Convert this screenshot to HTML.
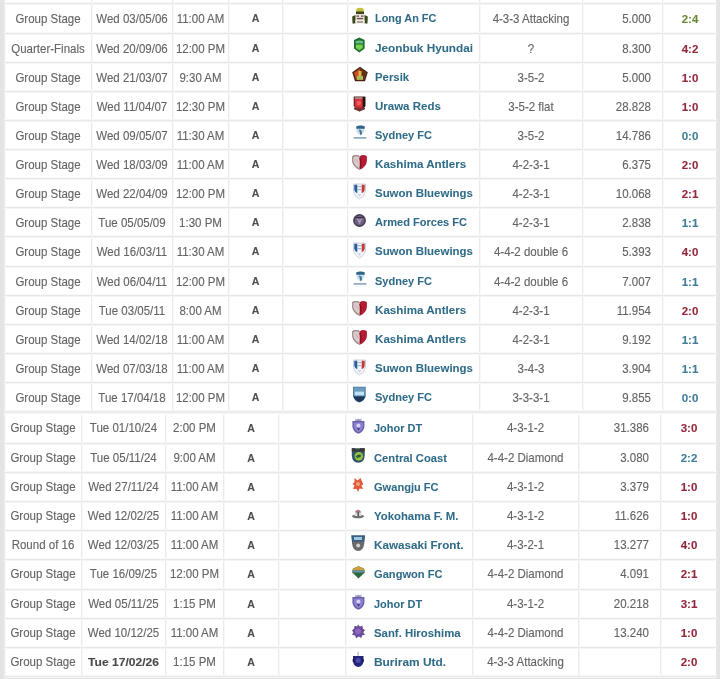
<!DOCTYPE html>
<html><head><meta charset="utf-8"><style>
*{margin:0;padding:0;box-sizing:border-box}
html,body{width:720px;height:679px;overflow:hidden;background:#fff}
body{position:relative;-webkit-text-stroke:0.12px;font-family:"Liberation Sans",sans-serif;font-size:11.5px;color:#646464}
.vl{position:absolute;width:1px;background:#ebebeb;box-shadow:1px 0 0 #f8f8f8}
.hl{position:absolute;height:1px;background:#e9e9e9;box-shadow:0 1px 0 #f5f5f5,0 -1px 0 #f7f7f7}
.c{position:absolute;white-space:nowrap;text-align:center;transform:scaleY(1.04)}
.r{text-align:right}
.b{font-weight:bold;color:#4e4e4e;transform:scale(0.92,0.96)}
.bd{font-weight:bold;color:#4a4a4a;transform:scale(1.05,1.0)}
.t{font-weight:bold;color:#2f6b88;text-align:left;-webkit-text-stroke:0.05px}
.s{font-weight:bold;transform:none}
.lg{position:absolute;width:18px;height:18px;overflow:visible}
</style></head>
<body>
<div id="w" style="position:absolute;left:0;top:0;width:720px;height:679px;will-change:transform">
<div style="position:absolute;left:0;top:0;width:4px;height:679px;background:#e4e4e4"></div>
<div style="position:absolute;left:716px;top:0;width:4px;height:679px;background:#e4e4e4"></div>
<div style="position:absolute;left:0;top:676px;width:720px;height:3px;background:#e4e4e4"></div>
<div class="vl" style="left:91px;top:0px;height:411px"></div>
<div class="vl" style="left:172px;top:0px;height:411px"></div>
<div class="vl" style="left:228px;top:0px;height:411px"></div>
<div class="vl" style="left:282px;top:0px;height:411px"></div>
<div class="vl" style="left:347px;top:0px;height:411px"></div>
<div class="vl" style="left:479px;top:0px;height:411px"></div>
<div class="vl" style="left:582px;top:0px;height:411px"></div>
<div class="vl" style="left:662px;top:0px;height:411px"></div>
<div class="vl" style="left:4px;top:0px;height:411px;background:#ededed"></div>
<div class="hl" style="left:4px;top:3px;width:713px"></div>
<div class="hl" style="left:4px;top:33px;width:713px"></div>
<div class="hl" style="left:4px;top:62px;width:713px"></div>
<div class="hl" style="left:4px;top:91px;width:713px"></div>
<div class="hl" style="left:4px;top:120px;width:713px"></div>
<div class="hl" style="left:4px;top:149px;width:713px"></div>
<div class="hl" style="left:4px;top:178px;width:713px"></div>
<div class="hl" style="left:4px;top:207px;width:713px"></div>
<div class="hl" style="left:4px;top:236px;width:713px"></div>
<div class="hl" style="left:4px;top:266px;width:713px"></div>
<div class="hl" style="left:4px;top:295px;width:713px"></div>
<div class="hl" style="left:4px;top:324px;width:713px"></div>
<div class="hl" style="left:4px;top:353px;width:713px"></div>
<div class="hl" style="left:4px;top:382px;width:713px"></div>
<div class="hl" style="left:4px;top:411px;width:713px;height:2px;background:#ececec"></div>
<div class="c " style="left:5.0px;top:4.7px;width:86.0px;height:29.0px;line-height:29.0px;">Group Stage</div>
<div class="c " style="left:92.0px;top:4.7px;width:80.0px;height:29.0px;line-height:29.0px;">Wed 03/05/06</div>
<div class="c " style="left:173.0px;top:4.7px;width:55.0px;height:29.0px;line-height:29.0px;">11:00 AM</div>
<div class="c b" style="left:229.0px;top:4.7px;width:53.0px;height:29.0px;line-height:29.0px;margin-top:-0.6px">A</div>
<svg class="lg" style="left:351px;top:7.0px" viewBox="0 0 18 18"><path d="M5.5 1.5q3.5-1.5 7 0L13 6H5z" fill="#c4c040"/><path d="M5 4.5h8v2.5H5z" fill="#3e4418"/><path d="M4.5 7h9v6h-9z" fill="#e8dcd8"/><path d="M5.5 8.5h2.5v1.3H5.5zM10 8.5h2.5v1.3H10zM6 11h6v1.2H6z" fill="#6a4a44"/><path d="M1.2 9.5L4.5 8v8.5H1.5zM16.8 9.5L13.5 8v8.5h3z" fill="#3a4a1a"/><path d="M4.5 13h9v3.5h-9z" fill="#f2eee4"/><path d="M6 14.5h6v1H6z" fill="#5a5a40"/></svg>
<div class="c t" style="left:375px;top:3.8px;height:29.0px;line-height:29.0px;transform-origin:0 50%;transform:scale(0.948,1.0)">Long An FC</div>
<div class="c " style="left:480.0px;top:4.7px;width:102.0px;height:29.0px;line-height:29.0px;">4-3-3 Attacking</div>
<div class="c r" style="left:583.0px;top:4.7px;width:68.0px;height:29.0px;line-height:29.0px">5.000</div>
<div class="c s" style="left:663.0px;top:4.7px;width:54.0px;height:29.0px;line-height:29.0px;color:#6a8a3a">2:4</div>
<div class="c " style="left:5.0px;top:34.7px;width:86.0px;height:28.0px;line-height:28.0px;">Quarter-Finals</div>
<div class="c " style="left:92.0px;top:34.7px;width:80.0px;height:28.0px;line-height:28.0px;">Wed 20/09/06</div>
<div class="c " style="left:173.0px;top:34.7px;width:55.0px;height:28.0px;line-height:28.0px;">12:00 PM</div>
<div class="c b" style="left:229.0px;top:34.7px;width:53.0px;height:28.0px;line-height:28.0px;margin-top:-0.6px">A</div>
<svg class="lg" style="left:351px;top:36.0px" viewBox="0 0 18 18"><path d="M8.3 1.5L13.6 4v8.5L8.3 16.6 3 12.5V4z" fill="#1e6a2a"/><path d="M8.3 3.5L12 5.2v6.8L8.3 14.8 4.6 12V5.2z" fill="#3a9a3a"/><path d="M5 9h6.6v3L8.3 14 5 12z" fill="#7ad050"/><path d="M4.6 5h7.4v2H4.6z" fill="#6ab89a"/></svg>
<div class="c t" style="left:375px;top:33.8px;height:28.0px;line-height:28.0px;transform-origin:0 50%;transform:scale(1.023,1.0)">Jeonbuk Hyundai</div>
<div class="c " style="left:480.0px;top:34.7px;width:102.0px;height:28.0px;line-height:28.0px;">?</div>
<div class="c r" style="left:583.0px;top:34.7px;width:68.0px;height:28.0px;line-height:28.0px">8.300</div>
<div class="c s" style="left:663.0px;top:34.7px;width:54.0px;height:28.0px;line-height:28.0px;color:#93283c">4:2</div>
<div class="c " style="left:5.0px;top:63.7px;width:86.0px;height:28.0px;line-height:28.0px;">Group Stage</div>
<div class="c " style="left:92.0px;top:63.7px;width:80.0px;height:28.0px;line-height:28.0px;">Wed 21/03/07</div>
<div class="c " style="left:173.0px;top:63.7px;width:55.0px;height:28.0px;line-height:28.0px;">9:30 AM</div>
<div class="c b" style="left:229.0px;top:63.7px;width:53.0px;height:28.0px;line-height:28.0px;margin-top:-0.6px">A</div>
<svg class="lg" style="left:351px;top:65.0px" viewBox="0 0 18 18"><path d="M9 1.7L16.8 7.3 14 16.2H4L1.2 7.3z" fill="#4a2410"/><path d="M9 3.5L15 7.8 12.8 14.8H5.2L3 7.8z" fill="#c85028"/><path d="M9 3.5L15 7.8 12.8 14.8H9z" fill="#5a3418"/><path d="M7.5 6h3v6h-3z" fill="#e8b040"/><path d="M6 11h6v3.8H6z" fill="#a8c060"/></svg>
<div class="c t" style="left:375px;top:62.8px;height:28.0px;line-height:28.0px;transform-origin:0 50%;transform:scale(0.99,1.0)">Persik</div>
<div class="c " style="left:480.0px;top:63.7px;width:102.0px;height:28.0px;line-height:28.0px;">3-5-2</div>
<div class="c r" style="left:583.0px;top:63.7px;width:68.0px;height:28.0px;line-height:28.0px">5.000</div>
<div class="c s" style="left:663.0px;top:63.7px;width:54.0px;height:28.0px;line-height:28.0px;color:#93283c">1:0</div>
<div class="c " style="left:5.0px;top:92.7px;width:86.0px;height:28.0px;line-height:28.0px;">Group Stage</div>
<div class="c " style="left:92.0px;top:92.7px;width:80.0px;height:28.0px;line-height:28.0px;">Wed 11/04/07</div>
<div class="c " style="left:173.0px;top:92.7px;width:55.0px;height:28.0px;line-height:28.0px;">12:30 PM</div>
<div class="c b" style="left:229.0px;top:92.7px;width:53.0px;height:28.0px;line-height:28.0px;margin-top:-0.6px">A</div>
<svg class="lg" style="left:351px;top:95.0px" viewBox="0 0 18 18"><path d="M2.7 1.6h11.6v9.4l-5.8 5.6-5.8-5.6z" fill="#5a2020"/><path d="M3.8 3h9.4v8L8.5 15.2 3.8 11z" fill="#d83438"/><path d="M11.6 2h2.7v9.2l-2.7 2.4z" fill="#281010"/><path d="M3.8 2.2h7.6v1.6H3.8z" fill="#a89898"/><circle cx="7.8" cy="8" r="2.2" fill="#f06060"/><path d="M3 12.4h11v1.8l-5.5 2.4-5.5-2.4z" fill="#7a3030"/></svg>
<div class="c t" style="left:375px;top:91.8px;height:28.0px;line-height:28.0px;transform-origin:0 50%;transform:scale(1.0,1.0)">Urawa Reds</div>
<div class="c " style="left:480.0px;top:92.7px;width:102.0px;height:28.0px;line-height:28.0px;">3-5-2 flat</div>
<div class="c r" style="left:583.0px;top:92.7px;width:68.0px;height:28.0px;line-height:28.0px">28.828</div>
<div class="c s" style="left:663.0px;top:92.7px;width:54.0px;height:28.0px;line-height:28.0px;color:#93283c">1:0</div>
<div class="c " style="left:5.0px;top:121.7px;width:86.0px;height:28.0px;line-height:28.0px;">Group Stage</div>
<div class="c " style="left:92.0px;top:121.7px;width:80.0px;height:28.0px;line-height:28.0px;">Wed 09/05/07</div>
<div class="c " style="left:173.0px;top:121.7px;width:55.0px;height:28.0px;line-height:28.0px;">11:30 AM</div>
<div class="c b" style="left:229.0px;top:121.7px;width:53.0px;height:28.0px;line-height:28.0px;margin-top:-0.6px">A</div>
<svg class="lg" style="left:351px;top:124.0px" viewBox="0 0 18 18"><path d="M5.2 2.6q4.3-2.2 8.6 0l-.6 4.6-2.4 3.6H7.9L5.6 7.2z" fill="#c8dcea"/><path d="M5.2 2.6q4.3-2.2 8.6 0l-.2 2.2H5.4z" fill="#2e6488"/><path d="M7.8 5.6l2.8.8.3 3.6-1.3 1.4-.8-2.8z" fill="#3e7092"/><path d="M2.6 13h12.8v1.8H2.6z" fill="#98aec2"/></svg>
<div class="c t" style="left:375px;top:120.8px;height:28.0px;line-height:28.0px;transform-origin:0 50%;transform:scale(0.958,1.0)">Sydney FC</div>
<div class="c " style="left:480.0px;top:121.7px;width:102.0px;height:28.0px;line-height:28.0px;">3-5-2</div>
<div class="c r" style="left:583.0px;top:121.7px;width:68.0px;height:28.0px;line-height:28.0px">14.786</div>
<div class="c s" style="left:663.0px;top:121.7px;width:54.0px;height:28.0px;line-height:28.0px;color:#417d98">0:0</div>
<div class="c " style="left:5.0px;top:150.7px;width:86.0px;height:28.0px;line-height:28.0px;">Group Stage</div>
<div class="c " style="left:92.0px;top:150.7px;width:80.0px;height:28.0px;line-height:28.0px;">Wed 18/03/09</div>
<div class="c " style="left:173.0px;top:150.7px;width:55.0px;height:28.0px;line-height:28.0px;">11:00 AM</div>
<div class="c b" style="left:229.0px;top:150.7px;width:53.0px;height:28.0px;line-height:28.0px;margin-top:-0.6px">A</div>
<svg class="lg" style="left:351px;top:153.0px" viewBox="0 0 18 18"><path d="M8.7 3.2Q5 .8 1.3 3.2v5q.8 5.5 7.4 8.6 6.6-3.1 7.2-8.6v-5Q12.4.8 8.7 3.2z" fill="#b41c34"/><path d="M8.7 3.2Q5 .8 1.3 3.2v5q.8 5.5 7.4 8.6z" fill="#d6cccc"/><path d="M1.3 3.2Q5 .8 8.7 3.2v1.2Q5 2.2 2.3 4.2V8q.8 4.5 6.4 7.6v1.2q-6.6-3.1-7.4-8.6z" fill="#9a8a8a"/><path d="M8.7 5q2 4 .5 10" stroke="#801020" stroke-width="1.2" fill="none"/><path d="M4 6q2 1 3.5 4" stroke="#e8a0a8" stroke-width="1" fill="none"/></svg>
<div class="c t" style="left:375px;top:149.8px;height:28.0px;line-height:28.0px;transform-origin:0 50%;transform:scale(1.01,1.0)">Kashima Antlers</div>
<div class="c " style="left:480.0px;top:150.7px;width:102.0px;height:28.0px;line-height:28.0px;">4-2-3-1</div>
<div class="c r" style="left:583.0px;top:150.7px;width:68.0px;height:28.0px;line-height:28.0px">6.375</div>
<div class="c s" style="left:663.0px;top:150.7px;width:54.0px;height:28.0px;line-height:28.0px;color:#93283c">2:0</div>
<div class="c " style="left:5.0px;top:179.7px;width:86.0px;height:28.0px;line-height:28.0px;">Group Stage</div>
<div class="c " style="left:92.0px;top:179.7px;width:80.0px;height:28.0px;line-height:28.0px;">Wed 22/04/09</div>
<div class="c " style="left:173.0px;top:179.7px;width:55.0px;height:28.0px;line-height:28.0px;">12:00 PM</div>
<div class="c b" style="left:229.0px;top:179.7px;width:53.0px;height:28.0px;line-height:28.0px;margin-top:-0.6px">A</div>
<svg class="lg" style="left:351px;top:182.0px" viewBox="0 0 18 18"><path d="M2.5 2h12v7.8q-1.3 5-6 7.2-4.7-2.2-6-7.2z" fill="#f4f6fa" stroke="#b8c0cc" stroke-width=".7"/><path d="M3.3 2.8h3v8.5L4.3 10 3.3 8z" fill="#2a5aa0"/><path d="M10.7 2.8h3V8l-1 2-2 1.3z" fill="#c83838"/><path d="M6.6 4h3.8v1.2H6.6zM6.6 7h3.8v1.2H6.6z" fill="#9ab8d8"/><path d="M6.5 12h4l-2 3z" fill="#d0d8e8"/></svg>
<div class="c t" style="left:375px;top:178.8px;height:28.0px;line-height:28.0px;transform-origin:0 50%;transform:scale(0.995,1.0)">Suwon Bluewings</div>
<div class="c " style="left:480.0px;top:179.7px;width:102.0px;height:28.0px;line-height:28.0px;">4-2-3-1</div>
<div class="c r" style="left:583.0px;top:179.7px;width:68.0px;height:28.0px;line-height:28.0px">10.068</div>
<div class="c s" style="left:663.0px;top:179.7px;width:54.0px;height:28.0px;line-height:28.0px;color:#93283c">2:1</div>
<div class="c " style="left:5.0px;top:208.7px;width:86.0px;height:28.0px;line-height:28.0px;">Group Stage</div>
<div class="c " style="left:92.0px;top:208.7px;width:80.0px;height:28.0px;line-height:28.0px;">Tue 05/05/09</div>
<div class="c " style="left:173.0px;top:208.7px;width:55.0px;height:28.0px;line-height:28.0px;">1:30 PM</div>
<div class="c b" style="left:229.0px;top:208.7px;width:53.0px;height:28.0px;line-height:28.0px;margin-top:-0.6px">A</div>
<svg class="lg" style="left:351px;top:212.0px" viewBox="0 0 18 18"><circle cx="8.5" cy="8.5" r="6.4" fill="#4a3f58"/><circle cx="8.5" cy="8.5" r="4.8" fill="#6e6280"/><path d="M5.5 6l3 6.5 3-6.5-3 1.8z" fill="#a89ab8"/><path d="M4 5h9v1H4z" fill="#3a3048"/></svg>
<div class="c t" style="left:375px;top:207.8px;height:28.0px;line-height:28.0px;transform-origin:0 50%;transform:scale(0.96,1.0)">Armed Forces FC</div>
<div class="c " style="left:480.0px;top:208.7px;width:102.0px;height:28.0px;line-height:28.0px;">4-2-3-1</div>
<div class="c r" style="left:583.0px;top:208.7px;width:68.0px;height:28.0px;line-height:28.0px">2.838</div>
<div class="c s" style="left:663.0px;top:208.7px;width:54.0px;height:28.0px;line-height:28.0px;color:#417d98">1:1</div>
<div class="c " style="left:5.0px;top:237.7px;width:86.0px;height:29.0px;line-height:29.0px;">Group Stage</div>
<div class="c " style="left:92.0px;top:237.7px;width:80.0px;height:29.0px;line-height:29.0px;">Wed 16/03/11</div>
<div class="c " style="left:173.0px;top:237.7px;width:55.0px;height:29.0px;line-height:29.0px;">11:30 AM</div>
<div class="c b" style="left:229.0px;top:237.7px;width:53.0px;height:29.0px;line-height:29.0px;margin-top:-0.6px">A</div>
<svg class="lg" style="left:351px;top:241.0px" viewBox="0 0 18 18"><path d="M2.5 2h12v7.8q-1.3 5-6 7.2-4.7-2.2-6-7.2z" fill="#f4f6fa" stroke="#b8c0cc" stroke-width=".7"/><path d="M3.3 2.8h3v8.5L4.3 10 3.3 8z" fill="#2a5aa0"/><path d="M10.7 2.8h3V8l-1 2-2 1.3z" fill="#c83838"/><path d="M6.6 4h3.8v1.2H6.6zM6.6 7h3.8v1.2H6.6z" fill="#9ab8d8"/><path d="M6.5 12h4l-2 3z" fill="#d0d8e8"/></svg>
<div class="c t" style="left:375px;top:236.8px;height:29.0px;line-height:29.0px;transform-origin:0 50%;transform:scale(0.995,1.0)">Suwon Bluewings</div>
<div class="c " style="left:480.0px;top:237.7px;width:102.0px;height:29.0px;line-height:29.0px;">4-4-2 double 6</div>
<div class="c r" style="left:583.0px;top:237.7px;width:68.0px;height:29.0px;line-height:29.0px">5.393</div>
<div class="c s" style="left:663.0px;top:237.7px;width:54.0px;height:29.0px;line-height:29.0px;color:#93283c">4:0</div>
<div class="c " style="left:5.0px;top:267.7px;width:86.0px;height:28.0px;line-height:28.0px;">Group Stage</div>
<div class="c " style="left:92.0px;top:267.7px;width:80.0px;height:28.0px;line-height:28.0px;">Wed 06/04/11</div>
<div class="c " style="left:173.0px;top:267.7px;width:55.0px;height:28.0px;line-height:28.0px;">12:00 PM</div>
<div class="c b" style="left:229.0px;top:267.7px;width:53.0px;height:28.0px;line-height:28.0px;margin-top:-0.6px">A</div>
<svg class="lg" style="left:351px;top:270.0px" viewBox="0 0 18 18"><path d="M5.2 2.6q4.3-2.2 8.6 0l-.6 4.6-2.4 3.6H7.9L5.6 7.2z" fill="#c8dcea"/><path d="M5.2 2.6q4.3-2.2 8.6 0l-.2 2.2H5.4z" fill="#2e6488"/><path d="M7.8 5.6l2.8.8.3 3.6-1.3 1.4-.8-2.8z" fill="#3e7092"/><path d="M2.6 13h12.8v1.8H2.6z" fill="#98aec2"/></svg>
<div class="c t" style="left:375px;top:266.8px;height:28.0px;line-height:28.0px;transform-origin:0 50%;transform:scale(0.958,1.0)">Sydney FC</div>
<div class="c " style="left:480.0px;top:267.7px;width:102.0px;height:28.0px;line-height:28.0px;">4-4-2 double 6</div>
<div class="c r" style="left:583.0px;top:267.7px;width:68.0px;height:28.0px;line-height:28.0px">7.007</div>
<div class="c s" style="left:663.0px;top:267.7px;width:54.0px;height:28.0px;line-height:28.0px;color:#417d98">1:1</div>
<div class="c " style="left:5.0px;top:296.7px;width:86.0px;height:28.0px;line-height:28.0px;">Group Stage</div>
<div class="c " style="left:92.0px;top:296.7px;width:80.0px;height:28.0px;line-height:28.0px;">Tue 03/05/11</div>
<div class="c " style="left:173.0px;top:296.7px;width:55.0px;height:28.0px;line-height:28.0px;">8:00 AM</div>
<div class="c b" style="left:229.0px;top:296.7px;width:53.0px;height:28.0px;line-height:28.0px;margin-top:-0.6px">A</div>
<svg class="lg" style="left:351px;top:299.0px" viewBox="0 0 18 18"><path d="M8.7 3.2Q5 .8 1.3 3.2v5q.8 5.5 7.4 8.6 6.6-3.1 7.2-8.6v-5Q12.4.8 8.7 3.2z" fill="#b41c34"/><path d="M8.7 3.2Q5 .8 1.3 3.2v5q.8 5.5 7.4 8.6z" fill="#d6cccc"/><path d="M1.3 3.2Q5 .8 8.7 3.2v1.2Q5 2.2 2.3 4.2V8q.8 4.5 6.4 7.6v1.2q-6.6-3.1-7.4-8.6z" fill="#9a8a8a"/><path d="M8.7 5q2 4 .5 10" stroke="#801020" stroke-width="1.2" fill="none"/><path d="M4 6q2 1 3.5 4" stroke="#e8a0a8" stroke-width="1" fill="none"/></svg>
<div class="c t" style="left:375px;top:295.8px;height:28.0px;line-height:28.0px;transform-origin:0 50%;transform:scale(1.01,1.0)">Kashima Antlers</div>
<div class="c " style="left:480.0px;top:296.7px;width:102.0px;height:28.0px;line-height:28.0px;">4-2-3-1</div>
<div class="c r" style="left:583.0px;top:296.7px;width:68.0px;height:28.0px;line-height:28.0px">11.954</div>
<div class="c s" style="left:663.0px;top:296.7px;width:54.0px;height:28.0px;line-height:28.0px;color:#93283c">2:0</div>
<div class="c " style="left:5.0px;top:325.7px;width:86.0px;height:28.0px;line-height:28.0px;">Group Stage</div>
<div class="c " style="left:92.0px;top:325.7px;width:80.0px;height:28.0px;line-height:28.0px;">Wed 14/02/18</div>
<div class="c " style="left:173.0px;top:325.7px;width:55.0px;height:28.0px;line-height:28.0px;">11:00 AM</div>
<div class="c b" style="left:229.0px;top:325.7px;width:53.0px;height:28.0px;line-height:28.0px;margin-top:-0.6px">A</div>
<svg class="lg" style="left:351px;top:328.0px" viewBox="0 0 18 18"><path d="M8.7 3.2Q5 .8 1.3 3.2v5q.8 5.5 7.4 8.6 6.6-3.1 7.2-8.6v-5Q12.4.8 8.7 3.2z" fill="#b41c34"/><path d="M8.7 3.2Q5 .8 1.3 3.2v5q.8 5.5 7.4 8.6z" fill="#d6cccc"/><path d="M1.3 3.2Q5 .8 8.7 3.2v1.2Q5 2.2 2.3 4.2V8q.8 4.5 6.4 7.6v1.2q-6.6-3.1-7.4-8.6z" fill="#9a8a8a"/><path d="M8.7 5q2 4 .5 10" stroke="#801020" stroke-width="1.2" fill="none"/><path d="M4 6q2 1 3.5 4" stroke="#e8a0a8" stroke-width="1" fill="none"/></svg>
<div class="c t" style="left:375px;top:324.8px;height:28.0px;line-height:28.0px;transform-origin:0 50%;transform:scale(1.01,1.0)">Kashima Antlers</div>
<div class="c " style="left:480.0px;top:325.7px;width:102.0px;height:28.0px;line-height:28.0px;">4-2-3-1</div>
<div class="c r" style="left:583.0px;top:325.7px;width:68.0px;height:28.0px;line-height:28.0px">9.192</div>
<div class="c s" style="left:663.0px;top:325.7px;width:54.0px;height:28.0px;line-height:28.0px;color:#417d98">1:1</div>
<div class="c " style="left:5.0px;top:354.7px;width:86.0px;height:28.0px;line-height:28.0px;">Group Stage</div>
<div class="c " style="left:92.0px;top:354.7px;width:80.0px;height:28.0px;line-height:28.0px;">Wed 07/03/18</div>
<div class="c " style="left:173.0px;top:354.7px;width:55.0px;height:28.0px;line-height:28.0px;">11:00 AM</div>
<div class="c b" style="left:229.0px;top:354.7px;width:53.0px;height:28.0px;line-height:28.0px;margin-top:-0.6px">A</div>
<svg class="lg" style="left:351px;top:358.0px" viewBox="0 0 18 18"><path d="M2.5 2h12v7.8q-1.3 5-6 7.2-4.7-2.2-6-7.2z" fill="#f4f6fa" stroke="#b8c0cc" stroke-width=".7"/><path d="M3.3 2.8h3v8.5L4.3 10 3.3 8z" fill="#2a5aa0"/><path d="M10.7 2.8h3V8l-1 2-2 1.3z" fill="#c83838"/><path d="M6.6 4h3.8v1.2H6.6zM6.6 7h3.8v1.2H6.6z" fill="#9ab8d8"/><path d="M6.5 12h4l-2 3z" fill="#d0d8e8"/></svg>
<div class="c t" style="left:375px;top:353.8px;height:28.0px;line-height:28.0px;transform-origin:0 50%;transform:scale(0.995,1.0)">Suwon Bluewings</div>
<div class="c " style="left:480.0px;top:354.7px;width:102.0px;height:28.0px;line-height:28.0px;">3-4-3</div>
<div class="c r" style="left:583.0px;top:354.7px;width:68.0px;height:28.0px;line-height:28.0px">3.904</div>
<div class="c s" style="left:663.0px;top:354.7px;width:54.0px;height:28.0px;line-height:28.0px;color:#417d98">1:1</div>
<div class="c " style="left:5.0px;top:383.7px;width:86.0px;height:28.0px;line-height:28.0px;">Group Stage</div>
<div class="c " style="left:92.0px;top:383.7px;width:80.0px;height:28.0px;line-height:28.0px;">Tue 17/04/18</div>
<div class="c " style="left:173.0px;top:383.7px;width:55.0px;height:28.0px;line-height:28.0px;">12:00 PM</div>
<div class="c b" style="left:229.0px;top:383.7px;width:53.0px;height:28.0px;line-height:28.0px;margin-top:-0.6px">A</div>
<svg class="lg" style="left:351px;top:386.0px" viewBox="0 0 18 18"><path d="M2 0.7h12.7v9.5Q13.5 15 8.35 16.6 3.2 15 2 10.2z" fill="#4a7aa0"/><path d="M2.8 1.5h11v4H2.8z" fill="#6a9cc0"/><path d="M3.5 5.5h9.7v4H3.5z" fill="#c0e0f4"/><path d="M2.5 10.5h11.7Q13 14.5 8.35 16 3.7 14.5 2.5 10.5z" fill="#1e3858"/></svg>
<div class="c t" style="left:375px;top:382.8px;height:28.0px;line-height:28.0px;transform-origin:0 50%;transform:scale(0.958,1.0)">Sydney FC</div>
<div class="c " style="left:480.0px;top:383.7px;width:102.0px;height:28.0px;line-height:28.0px;">3-3-3-1</div>
<div class="c r" style="left:583.0px;top:383.7px;width:68.0px;height:28.0px;line-height:28.0px">9.855</div>
<div class="c s" style="left:663.0px;top:383.7px;width:54.0px;height:28.0px;line-height:28.0px;color:#417d98">0:0</div>
<div class="vl" style="left:81px;top:415px;height:261px"></div>
<div class="vl" style="left:165px;top:415px;height:261px"></div>
<div class="vl" style="left:223px;top:415px;height:261px"></div>
<div class="vl" style="left:278px;top:415px;height:261px"></div>
<div class="vl" style="left:345px;top:415px;height:261px"></div>
<div class="vl" style="left:472px;top:415px;height:261px"></div>
<div class="vl" style="left:578px;top:415px;height:261px"></div>
<div class="vl" style="left:660px;top:415px;height:261px"></div>
<div class="vl" style="left:4px;top:415px;height:261px;background:#ededed"></div>
<div class="hl" style="left:4px;top:443px;width:713px"></div>
<div class="hl" style="left:4px;top:472px;width:713px"></div>
<div class="hl" style="left:4px;top:501px;width:713px"></div>
<div class="hl" style="left:4px;top:530px;width:713px"></div>
<div class="hl" style="left:4px;top:559px;width:713px"></div>
<div class="hl" style="left:4px;top:589px;width:713px"></div>
<div class="hl" style="left:4px;top:618px;width:713px"></div>
<div class="hl" style="left:4px;top:647px;width:713px"></div>
<div class="hl" style="left:4px;top:676px;width:713px"></div>
<div class="c " style="left:5.0px;top:413.2px;width:76.0px;height:30.0px;line-height:30.0px;">Group Stage</div>
<div class="c " style="left:82.0px;top:413.2px;width:83.0px;height:30.0px;line-height:30.0px;">Tue 01/10/24</div>
<div class="c " style="left:166.0px;top:413.2px;width:57.0px;height:30.0px;line-height:30.0px;">2:00 PM</div>
<div class="c b" style="left:224.0px;top:413.2px;width:54.0px;height:30.0px;line-height:30.0px;margin-top:-0.6px">A</div>
<svg class="lg" style="left:351px;top:416.0px" viewBox="0 0 18 18"><path d="M4.5 2l1 2 1.9-1.5 1.9 1.5 1-2 .2 3H4.3z" fill="#9090b8"/><path d="M1.4 5h12v6q-1 5-6 6.8Q2.4 16 1.4 11z" fill="#6a62b0"/><path d="M3 6.5h8.8v4.5q-1 4-4.4 5.3Q4 15 3 11z" fill="#8a82cc"/><circle cx="7.4" cy="9.5" r="2" fill="#d8d0f8"/><path d="M6 12h3l-1.5 3z" fill="#4a4290"/></svg>
<div class="c t" style="left:374px;top:412.8px;height:30.0px;line-height:30.0px;transform-origin:0 50%;transform:scale(0.953,1.0)">Johor DT</div>
<div class="c " style="left:473.0px;top:413.2px;width:105.0px;height:30.0px;line-height:30.0px;">4-3-1-2</div>
<div class="c r" style="left:579.0px;top:413.2px;width:70.0px;height:30.0px;line-height:30.0px">31.386</div>
<div class="c s" style="left:661.0px;top:413.2px;width:56.0px;height:30.0px;line-height:30.0px;color:#93283c">3:0</div>
<div class="c " style="left:5.0px;top:444.2px;width:76.0px;height:28.0px;line-height:28.0px;">Group Stage</div>
<div class="c " style="left:82.0px;top:444.2px;width:83.0px;height:28.0px;line-height:28.0px;">Tue 05/11/24</div>
<div class="c " style="left:166.0px;top:444.2px;width:57.0px;height:28.0px;line-height:28.0px;">9:00 AM</div>
<div class="c b" style="left:224.0px;top:444.2px;width:54.0px;height:28.0px;line-height:28.0px;margin-top:-0.6px">A</div>
<svg class="lg" style="left:351px;top:447.0px" viewBox="0 0 18 18"><path d="M0.8 1.3h12.9v7.5q-.5 7-6.45 7T0.8 8.8z" fill="#2e5866"/><path d="M0.8 1.3h3.2l.8 1.5h3.6l.8-1.5h4.5v3.2H0.8z" fill="#3a3434"/><circle cx="7.8" cy="9.3" r="4.2" fill="#9cc040"/><path d="M4.5 9.5q2-3 6.5-1.5-3 .5-4.5 3.5z" fill="#2a6a58"/><circle cx="8.3" cy="9.2" r="1.3" fill="#2a5a30"/></svg>
<div class="c t" style="left:374px;top:443.8px;height:28.0px;line-height:28.0px;transform-origin:0 50%;transform:scale(0.977,1.0)">Central Coast</div>
<div class="c " style="left:473.0px;top:444.2px;width:105.0px;height:28.0px;line-height:28.0px;">4-4-2 Diamond</div>
<div class="c r" style="left:579.0px;top:444.2px;width:70.0px;height:28.0px;line-height:28.0px">3.080</div>
<div class="c s" style="left:661.0px;top:444.2px;width:56.0px;height:28.0px;line-height:28.0px;color:#417d98">2:2</div>
<div class="c " style="left:5.0px;top:473.2px;width:76.0px;height:28.0px;line-height:28.0px;">Group Stage</div>
<div class="c " style="left:82.0px;top:473.2px;width:83.0px;height:28.0px;line-height:28.0px;">Wed 27/11/24</div>
<div class="c " style="left:166.0px;top:473.2px;width:57.0px;height:28.0px;line-height:28.0px;">11:00 AM</div>
<div class="c b" style="left:224.0px;top:473.2px;width:54.0px;height:28.0px;line-height:28.0px;margin-top:-0.6px">A</div>
<svg class="lg" style="left:351px;top:476.0px" viewBox="0 0 18 18"><path d="M3.5 2l3 2.5L9.5 2l1.5 3.5 1.3 3-2 1 1.8 3.5-3.5-.5-1.5 3.5-1.5-3L2 13l1.5-3.5-2-1.5 2-2z" fill="#e05a3a"/><circle cx="7" cy="8" r="2" fill="#f0a080"/></svg>
<div class="c t" style="left:374px;top:472.8px;height:28.0px;line-height:28.0px;transform-origin:0 50%;transform:scale(0.963,1.0)">Gwangju FC</div>
<div class="c " style="left:473.0px;top:473.2px;width:105.0px;height:28.0px;line-height:28.0px;">4-3-1-2</div>
<div class="c r" style="left:579.0px;top:473.2px;width:70.0px;height:28.0px;line-height:28.0px">3.379</div>
<div class="c s" style="left:661.0px;top:473.2px;width:56.0px;height:28.0px;line-height:28.0px;color:#93283c">1:0</div>
<div class="c " style="left:5.0px;top:502.2px;width:76.0px;height:28.0px;line-height:28.0px;">Group Stage</div>
<div class="c " style="left:82.0px;top:502.2px;width:83.0px;height:28.0px;line-height:28.0px;">Wed 12/02/25</div>
<div class="c " style="left:166.0px;top:502.2px;width:57.0px;height:28.0px;line-height:28.0px;">11:00 AM</div>
<div class="c b" style="left:224.0px;top:502.2px;width:54.0px;height:28.0px;line-height:28.0px;margin-top:-0.6px">A</div>
<svg class="lg" style="left:351px;top:505.0px" viewBox="0 0 18 18"><ellipse cx="7" cy="11.3" rx="6" ry="1.9" fill="#707070"/><path d="M3.5 11q0-6.4 3.5-6.4T10.5 11z" fill="#ddd8d8"/><path d="M4.5 6q2.5-2 5 0v1.5h-5z" fill="#b07080"/><path d="M6.5 7h1.5v4H6.5z" fill="#505050"/></svg>
<div class="c t" style="left:374px;top:501.8px;height:28.0px;line-height:28.0px;transform-origin:0 50%;transform:scale(0.987,1.0)">Yokohama F. M.</div>
<div class="c " style="left:473.0px;top:502.2px;width:105.0px;height:28.0px;line-height:28.0px;">4-3-1-2</div>
<div class="c r" style="left:579.0px;top:502.2px;width:70.0px;height:28.0px;line-height:28.0px">11.626</div>
<div class="c s" style="left:661.0px;top:502.2px;width:56.0px;height:28.0px;line-height:28.0px;color:#93283c">1:0</div>
<div class="c " style="left:5.0px;top:531.2px;width:76.0px;height:28.0px;line-height:28.0px;">Round of 16</div>
<div class="c " style="left:82.0px;top:531.2px;width:83.0px;height:28.0px;line-height:28.0px;">Wed 12/03/25</div>
<div class="c " style="left:166.0px;top:531.2px;width:57.0px;height:28.0px;line-height:28.0px;">11:00 AM</div>
<div class="c b" style="left:224.0px;top:531.2px;width:54.0px;height:28.0px;line-height:28.0px;margin-top:-0.6px">A</div>
<svg class="lg" style="left:351px;top:534.0px" viewBox="0 0 18 18"><path d="M1 2h12.3v7.5q-1 7.4-6.15 7.4T1 9.5z" fill="#6a6a6a"/><path d="M0.3 1.25h13.7v1.5l-.7 5H1l-.7-5z" fill="#3a6080"/><path d="M3 3h8v3H3z" fill="#a0c8e4"/><circle cx="7.15" cy="11.5" r="2" fill="#d0d0d0"/></svg>
<div class="c t" style="left:374px;top:530.8px;height:28.0px;line-height:28.0px;transform-origin:0 50%;transform:scale(1.015,1.0)">Kawasaki Front.</div>
<div class="c " style="left:473.0px;top:531.2px;width:105.0px;height:28.0px;line-height:28.0px;">4-3-2-1</div>
<div class="c r" style="left:579.0px;top:531.2px;width:70.0px;height:28.0px;line-height:28.0px">13.277</div>
<div class="c s" style="left:661.0px;top:531.2px;width:56.0px;height:28.0px;line-height:28.0px;color:#93283c">4:0</div>
<div class="c " style="left:5.0px;top:560.2px;width:76.0px;height:29.0px;line-height:29.0px;">Group Stage</div>
<div class="c " style="left:82.0px;top:560.2px;width:83.0px;height:29.0px;line-height:29.0px;">Tue 16/09/25</div>
<div class="c " style="left:166.0px;top:560.2px;width:57.0px;height:29.0px;line-height:29.0px;">12:00 PM</div>
<div class="c b" style="left:224.0px;top:560.2px;width:54.0px;height:29.0px;line-height:29.0px;margin-top:-0.6px">A</div>
<svg class="lg" style="left:351px;top:563.0px" viewBox="0 0 18 18"><path d="M7.5 3.3L13 5.5 14 9.3 7.5 15.4 1 9.3 2 5.5z" fill="#2a6a3a"/><path d="M7.5 3.3L13 5.5l.5 2H1.5l.5-2z" fill="#d0a040"/><path d="M1.3 7.5h12.4v2H1.3z" fill="#6a90b0"/></svg>
<div class="c t" style="left:374px;top:559.8px;height:29.0px;line-height:29.0px;transform-origin:0 50%;transform:scale(0.967,1.0)">Gangwon FC</div>
<div class="c " style="left:473.0px;top:560.2px;width:105.0px;height:29.0px;line-height:29.0px;">4-4-2 Diamond</div>
<div class="c r" style="left:579.0px;top:560.2px;width:70.0px;height:29.0px;line-height:29.0px">4.091</div>
<div class="c s" style="left:661.0px;top:560.2px;width:56.0px;height:29.0px;line-height:29.0px;color:#93283c">2:1</div>
<div class="c " style="left:5.0px;top:590.2px;width:76.0px;height:28.0px;line-height:28.0px;">Group Stage</div>
<div class="c " style="left:82.0px;top:590.2px;width:83.0px;height:28.0px;line-height:28.0px;">Wed 05/11/25</div>
<div class="c " style="left:166.0px;top:590.2px;width:57.0px;height:28.0px;line-height:28.0px;">1:15 PM</div>
<div class="c b" style="left:224.0px;top:590.2px;width:54.0px;height:28.0px;line-height:28.0px;margin-top:-0.6px">A</div>
<svg class="lg" style="left:351px;top:592.0px" viewBox="0 0 18 18"><path d="M4.5 2l1 2 1.9-1.5 1.9 1.5 1-2 .2 3H4.3z" fill="#9090b8"/><path d="M1.4 5h12v6q-1 5-6 6.8Q2.4 16 1.4 11z" fill="#6a62b0"/><path d="M3 6.5h8.8v4.5q-1 4-4.4 5.3Q4 15 3 11z" fill="#8a82cc"/><circle cx="7.4" cy="9.5" r="2" fill="#d8d0f8"/><path d="M6 12h3l-1.5 3z" fill="#4a4290"/></svg>
<div class="c t" style="left:374px;top:589.8px;height:28.0px;line-height:28.0px;transform-origin:0 50%;transform:scale(0.953,1.0)">Johor DT</div>
<div class="c " style="left:473.0px;top:590.2px;width:105.0px;height:28.0px;line-height:28.0px;">4-3-1-2</div>
<div class="c r" style="left:579.0px;top:590.2px;width:70.0px;height:28.0px;line-height:28.0px">20.218</div>
<div class="c s" style="left:661.0px;top:590.2px;width:56.0px;height:28.0px;line-height:28.0px;color:#93283c">3:1</div>
<div class="c " style="left:5.0px;top:619.2px;width:76.0px;height:28.0px;line-height:28.0px;">Group Stage</div>
<div class="c " style="left:82.0px;top:619.2px;width:83.0px;height:28.0px;line-height:28.0px;">Wed 10/12/25</div>
<div class="c " style="left:166.0px;top:619.2px;width:57.0px;height:28.0px;line-height:28.0px;">11:00 AM</div>
<div class="c b" style="left:224.0px;top:619.2px;width:54.0px;height:28.0px;line-height:28.0px;margin-top:-0.6px">A</div>
<svg class="lg" style="left:351px;top:622.0px" viewBox="0 0 18 18"><path d="M7 2.4l1.8 2.2 2.7-.8.3 2.8 2.2 1.6-1.8 2 1.8 2.6-2.8.4-.8 2.8-2.6-1.4-2.8 1.6-.8-2.8L1 12.8l1.4-2.4L1 8.2l2.2-1.6.3-2.8 2.7.8z" fill="#6a4a9a"/><circle cx="7" cy="9.5" r="3" fill="#8a6ab8"/></svg>
<div class="c t" style="left:374px;top:618.8px;height:28.0px;line-height:28.0px;transform-origin:0 50%;transform:scale(0.989,1.0)">Sanf. Hiroshima</div>
<div class="c " style="left:473.0px;top:619.2px;width:105.0px;height:28.0px;line-height:28.0px;">4-4-2 Diamond</div>
<div class="c r" style="left:579.0px;top:619.2px;width:70.0px;height:28.0px;line-height:28.0px">13.240</div>
<div class="c s" style="left:661.0px;top:619.2px;width:56.0px;height:28.0px;line-height:28.0px;color:#93283c">1:0</div>
<div class="c " style="left:5.0px;top:648.2px;width:76.0px;height:28.0px;line-height:28.0px;">Group Stage</div>
<div class="c bd" style="left:82.0px;top:648.2px;width:83.0px;height:28.0px;line-height:28.0px;">Tue 17/02/26</div>
<div class="c " style="left:166.0px;top:648.2px;width:57.0px;height:28.0px;line-height:28.0px;">1:15 PM</div>
<div class="c b" style="left:224.0px;top:648.2px;width:54.0px;height:28.0px;line-height:28.0px;margin-top:-0.6px">A</div>
<svg class="lg" style="left:351px;top:651.0px" viewBox="0 0 18 18"><path d="M6.5 0.8h1.2v4H6.5z" fill="#b0b0c0"/><path d="M2 4.9h10.5v5.5q-1 5.2-5.25 5.6Q3 15.6 2 10.4z" fill="#25257a"/><path d="M1.7 8h1.5v3H1.7zM11.2 8h1.5v3h-1.5z" fill="#1a1a40"/><circle cx="7.2" cy="9.5" r="2.5" fill="#4a4ab0"/></svg>
<div class="c t" style="left:374px;top:647.8px;height:28.0px;line-height:28.0px;transform-origin:0 50%;transform:scale(1.035,1.0)">Buriram Utd.</div>
<div class="c " style="left:473.0px;top:648.2px;width:105.0px;height:28.0px;line-height:28.0px;">4-3-3 Attacking</div>
<div class="c s" style="left:661.0px;top:648.2px;width:56.0px;height:28.0px;line-height:28.0px;color:#93283c">2:0</div>
</div>
</body></html>
